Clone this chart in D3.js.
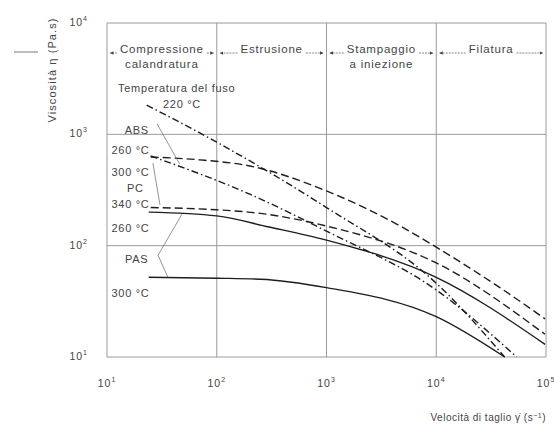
<!DOCTYPE html>
<html><head><meta charset="utf-8">
<script src="https://cdn.jsdelivr.net/npm/d3@7"></script>
<style>
body{margin:0;background:#fff;}
text{font-family:"Liberation Sans",Arial,sans-serif;fill:#444;}
</style></head>
<body><svg id="c" width="554" height="425"></svg>
<script>
// ---- data ----
const xTicks = [10, 100, 1000, 10000, 100000];
const yTicks = [10, 100, 1000, 10000];
const tickExp = ["1", "2", "3", "4", "5"];
const regions = [
  {from: 10, to: 100, lines: ["Compressione", "calandratura"]},
  {from: 100, to: 1000, lines: ["Estrusione"]},
  {from: 1000, to: 10000, lines: ["Stampaggio", "a iniezione"]},
  {from: 10000, to: 100000, lines: ["Filatura"]}
];
const abs220 = [[23,1830],[100,850],[1000,220],[10000,46],[42000,10]];
const abs260 = [[25,640],[200,290],[1000,135],[10000,40],[54000,10]];
const pc300  = [[25,625],[70,590],[200,520],[1000,310],[4700,150],[10000,97],[38000,42],[98000,22]];
const pc340  = [[25,220],[100,210],[250,195],[1000,150],[10000,70],[98000,16]];
const pas260 = [[24,200],[100,185],[300,147],[1000,112],[10000,52],[98000,13]];
const pas300 = [[24,52],[100,51],[250,50],[1000,42],[10000,23],[42000,10]];
const series = [
  {name:"ABS 220", data:abs220, style:"dashdot"},
  {name:"ABS 260", data:abs260, style:"dashdot"},
  {name:"PC 300", data:pc300, style:"dash"},
  {name:"PC 340", data:pc340, style:"dash"},
  {name:"PAS 260", data:pas260, style:"solid"},
  {name:"PAS 300", data:pas300, style:"solid"}
];
// label anchors in data space (left of the curves)
const labels = [
  {t:"Temperatura del fuso", x:12.6, y:2400},
  {t:"220 °C", x:32.4, y:1724},
  {t:"ABS", x:14.5, y:1000},
  {t:"260 °C", x:11, y:660},
  {t:"300 °C", x:11, y:420},
  {t:"PC", x:15.2, y:303},
  {t:"340 °C", x:11, y:218},
  {t:"260 °C", x:11, y:133},
  {t:"PAS", x:14.6, y:70},
  {t:"300 °C", x:11, y:34.5}
];
// leader lines (data space)
const leaders = [
  [[28.6,1240],[46,540]],
  [[26.2,553],[30.4,232]],
  [[48.2,192],[29.2,82],[35.9,52]]
];

// ---- scales ----
const svg = d3.select("#c");
const x = d3.scaleLog().domain([10, 100000]).range([107, 546]);
const y = d3.scaleLog().domain([10, 10000]).range([357, 23]);

// grid
const g = svg.append("g");
g.selectAll(".vg").data(xTicks).enter().append("line")
  .attr("x1", d=>x(d)).attr("x2", d=>x(d)).attr("y1", y(10000)).attr("y2", y(10))
  .attr("stroke", "#9a9a9a").attr("stroke-width", 1);
g.selectAll(".hg").data(yTicks).enter().append("line")
  .attr("y1", d=>y(d)).attr("y2", d=>y(d)).attr("x1", x(10)).attr("x2", x(100000))
  .attr("stroke", "#9a9a9a").attr("stroke-width", 1);

// tick labels
const xl = svg.append("g").selectAll("text").data(xTicks).enter().append("text")
  .attr("x", d=>x(d)).attr("y", 387).attr("text-anchor","middle").attr("font-size", 10.5)
  .attr("letter-spacing", 1);
xl.text("10").append("tspan").attr("dy", -5).attr("font-size", 7).text((d,i)=>tickExp[i]);
const yl = svg.append("g").selectAll("text").data(yTicks).enter().append("text")
  .attr("x", 88).attr("y", d=>y(d)+3).attr("text-anchor","end").attr("font-size", 10.5)
  .attr("letter-spacing", 1);
yl.text("10").append("tspan").attr("dy", -5).attr("font-size", 7).text((d,i)=>tickExp[i]);

// axis titles
svg.append("text").attr("transform","translate(56,70) rotate(-90)")
  .attr("text-anchor","middle").attr("font-size", 11).attr("letter-spacing", 1.1)
  .text("Viscosità η  (Pa.s)");
svg.append("line").attr("x1",14).attr("x2",38).attr("y1",52).attr("y2",52)
  .attr("stroke","#555").attr("stroke-width",0.8);
const xt = svg.append("text").attr("x", 546).attr("y", 421).attr("text-anchor","end")
  .attr("font-size", 10).attr("letter-spacing", 0.5);
xt.append("tspan").text("Velocità di taglio γ̇  (s");
xt.append("tspan").attr("dy",-3).attr("font-size",7).text("−1");
xt.append("tspan").attr("dy",3).text(")");

// regions
const defs = svg.append("defs");
defs.append("marker").attr("id","ah").attr("viewBox","0 0 6 6").attr("refX",6).attr("refY",3)
  .attr("markerWidth",5).attr("markerHeight",5).attr("orient","auto-start-reverse")
  .append("path").attr("d","M0,0L6,3L0,6Z").attr("fill","#444");
const rg = svg.append("g").selectAll("g").data(regions).enter().append("g");
rg.each(function(r){
  const sel = d3.select(this);
  const cx = (x(r.from)+x(r.to))/2;
  const t = sel.append("text").attr("x", cx).attr("y", 53).attr("text-anchor","middle")
    .attr("font-size",11.5).attr("letter-spacing",0.8).text(r.lines[0]);
  const w = t.node().getComputedTextLength();
  sel.append("line").attr("x1", cx - w/2 - 3).attr("x2", x(r.from)+3).attr("y1",53).attr("y2",53)
    .attr("stroke","#555").attr("stroke-width",0.7).attr("stroke-dasharray","2,1").attr("marker-end","url(#ah)");
  sel.append("line").attr("x1", cx + w/2 + 3).attr("x2", x(r.to)-3).attr("y1",53).attr("y2",53)
    .attr("stroke","#555").attr("stroke-width",0.7).attr("stroke-dasharray","2,1").attr("marker-end","url(#ah)");
  if (r.lines[1]) sel.append("text").attr("x", cx).attr("y", 68).attr("text-anchor","middle")
    .attr("font-size",11.5).attr("letter-spacing",0.8).text(r.lines[1]);
});

// curves
const line = d3.line().x(d=>x(d[0])).y(d=>y(d[1])).curve(d3.curveMonotoneX);
const dash = {solid:null, dash:"8,4", dashdot:"7,3,1.5,3"};
svg.append("g").selectAll("path").data(series).enter().append("path")
  .attr("d", d=>line(d.data)).attr("fill","none").attr("stroke","#1e1e1e")
  .attr("stroke-width", 1.4).attr("stroke-dasharray", d=>dash[d.style]);

// labels
svg.append("g").selectAll("text").data(labels).enter().append("text")
  .attr("x", d=>x(d.x)).attr("y", d=>y(d.y)).attr("font-size", 11)
  .attr("letter-spacing", 0.7).text(d=>d.t);

const ll = d3.line().x(d=>x(d[0])).y(d=>y(d[1]));
svg.append("g").selectAll("path").data(leaders).enter().append("path")
  .attr("d", ll).attr("fill","none").attr("stroke","#666").attr("stroke-width",0.7);
</script></body></html>
